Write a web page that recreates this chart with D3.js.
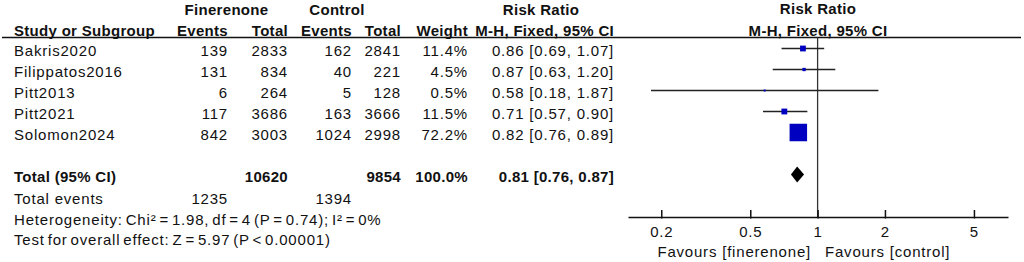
<!DOCTYPE html>
<html><head><meta charset="utf-8">
<script src="https://cdn.jsdelivr.net/npm/d3@7"></script>
<style>
html,body{margin:0;padding:0;background:#fff;}
svg text{font-family:"Liberation Sans",Arial,sans-serif;font-size:15px;fill:#111;letter-spacing:0.8px;}
svg text.b{font-weight:bold;letter-spacing:0.3px;}
svg text.n{word-spacing:-2px;}
</style></head><body>
<svg id="c" width="1024" height="262"></svg>
<script>
const studies = ["Bakris2020","Filippatos2016","Pitt2013","Pitt2021","Solomon2024"];
const finEvents = [139,131,6,117,842];
const finTotal = [2833,834,264,3686,3003];
const ctlEvents = [162,40,5,163,1024];
const ctlTotal = [2841,221,128,3666,2998];
const weights = [11.4,4.5,0.5,11.5,72.2];
const rr = [0.86,0.87,0.58,0.71,0.82];
const rrLo = [0.69,0.63,0.18,0.57,0.76];
const rrHi = [1.07,1.20,1.87,0.90,0.89];
const total = {finTotal:10620, ctlTotal:9854, weight:100.0, rr:0.81, lo:0.76, hi:0.87, finEvents:1235, ctlEvents:1394};
const tickValues = [0.2,0.5,1,2,5];
const heterogeneity = "Heterogeneity: Chi² = 1.98, df = 4 (P = 0.74); I² = 0%";
const overall = "Test for overall effect: Z = 5.97 (P < 0.00001)";
const favLeft = "Favours [finerenone]", favRight = "Favours [control]";

const svg = d3.select("#c");
const f2 = d3.format(".2f");
const ciText = (r,l,h)=> `${f2(r)} [${f2(l)}, ${f2(h)}]`;

// layout
const rowY = d3.scalePoint().domain(studies).range([48.5,132.5]);
const x = d3.scaleLog().domain([0.142,7.1]).range([628,1008]);
const sz = d3.scalePow().exponent(0.6).domain([0,72.2]).range([0,17.5]);
const colX = {name:14, fe:228, ft:288, ce:352, ct:401, w:468, rr:614};

function txt(xp,yp,s,anchor,cls){
  return svg.append("text").attr("x",xp).attr("y",yp).attr("text-anchor",anchor||"start")
    .attr("class",cls||null).text(s);
}
// headers
txt(226.5,15,"Finerenone","middle","b");
txt(337,15,"Control","middle","b");
txt(541,15,"Risk Ratio","middle","b");
txt(818,14,"Risk Ratio","middle","b");
txt(colX.name,35.5,"Study or Subgroup","start","b");
txt(colX.fe,35.5,"Events","end","b");
txt(colX.ft,35.5,"Total","end","b");
txt(colX.ce,35.5,"Events","end","b");
txt(colX.ct,35.5,"Total","end","b");
txt(colX.w,35.5,"Weight","end","b");
txt(colX.rr,35.5,"M-H, Fixed, 95% CI","end","b");
txt(818,35.5,"M-H, Fixed, 95% CI","middle","b");

svg.append("line").attr("x1",2).attr("x2",1021).attr("y1",37.5).attr("y2",37.5)
  .attr("stroke","#111").attr("stroke-width",1.5);

// rows
studies.forEach((s,i)=>{
  const y = rowY(s)+7;
  txt(colX.name,y,s);
  txt(colX.fe,y,finEvents[i],"end");
  txt(colX.ft,y,finTotal[i],"end");
  txt(colX.ce,y,ctlEvents[i],"end");
  txt(colX.ct,y,ctlTotal[i],"end");
  txt(colX.w,y,weights[i].toFixed(1)+"%","end");
  txt(colX.rr,y,ciText(rr[i],rrLo[i],rrHi[i]),"end");
});

// total rows
const ty = 182;
txt(colX.name,ty,"Total (95% CI)","start","b");
txt(colX.ft,ty,total.finTotal,"end","b");
txt(colX.ct,ty,total.ctlTotal,"end","b");
txt(colX.w,ty,total.weight.toFixed(1)+"%","end","b");
txt(colX.rr,ty,ciText(total.rr,total.lo,total.hi),"end","b");
txt(colX.name,204,"Total events");
txt(colX.fe,204,total.finEvents,"end");
txt(colX.ce,204,total.ctlEvents,"end");
txt(colX.name,224.5,heterogeneity,"start","n");
txt(colX.name,245,overall,"start","n");

// vertical line at 1
svg.append("line").attr("x1",x(1)).attr("x2",x(1)).attr("y1",37.5).attr("y2",217)
  .attr("stroke","#333").attr("stroke-width",1.3);

// CI lines and squares
const g = svg.append("g");
g.selectAll("line.ci").data(studies).join("line").attr("class","ci")
  .attr("x1",(d,i)=>x(rrLo[i])).attr("x2",(d,i)=>x(rrHi[i]))
  .attr("y1",d=>rowY(d)).attr("y2",d=>rowY(d))
  .attr("stroke","#222").attr("stroke-width",1.6);
g.selectAll("rect").data(studies).join("rect")
  .each(function(d,i){
    const s = Math.max(2, sz(weights[i]));
    d3.select(this).attr("x",x(rr[i])-s/2).attr("y",rowY(d)-s/2).attr("width",s).attr("height",s);
  })
  .attr("fill","#0000c0");

// diamond
const dy = 174.5;
svg.append("path").attr("d",
  `M${x(total.lo)},${dy} L${x(total.rr)},${dy-8} L${x(total.hi)},${dy} L${x(total.rr)},${dy+8} Z`)
  .attr("fill","#000");

// axis
const axis = d3.axisBottom(x).tickValues(tickValues).tickFormat(d3.format("")).tickSizeInner(-7).tickSizeOuter(0).tickPadding(0);
const ag = svg.append("g").attr("transform","translate(0,217)").call(axis);
ag.select(".domain").attr("stroke","#111").attr("stroke-width",1.5);
ag.selectAll(".tick line").attr("stroke","#111").attr("stroke-width",1.5).attr("y1",1.5);
ag.selectAll(".tick text").attr("y",20).attr("dy",null).attr("fill","#111")
  .style("font-family","'Liberation Sans',Arial,sans-serif").style("font-size","15px");
ag.attr("font-size",null).attr("font-family",null);

txt(811,257,favLeft,"end");
txt(825,257,favRight,"start");
</script>
</body></html>
